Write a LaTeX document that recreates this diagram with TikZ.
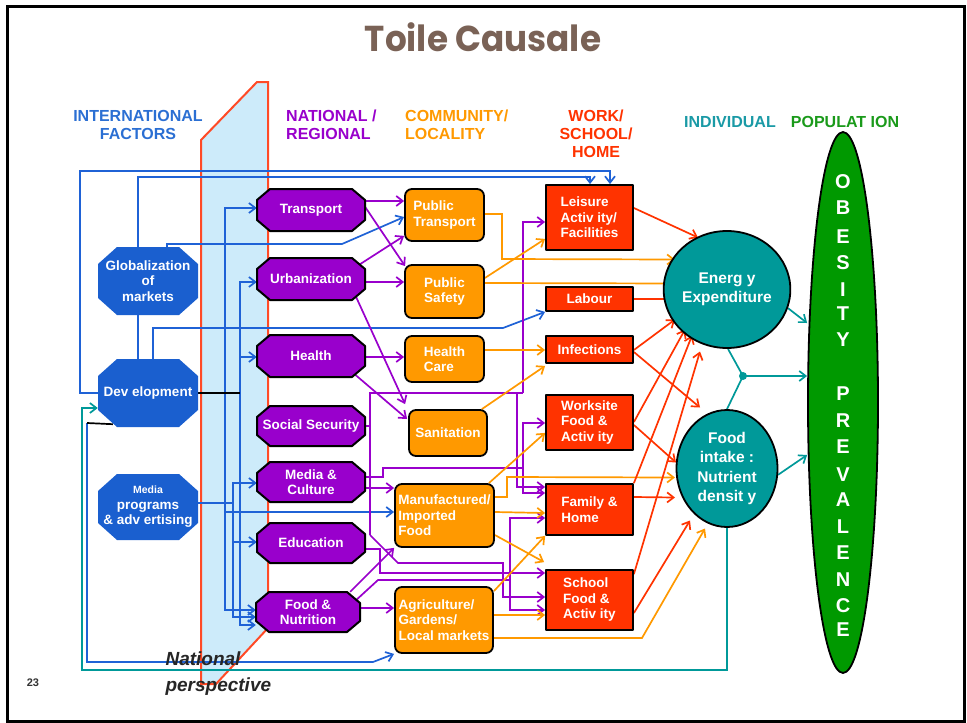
\documentclass[tikz,border=0pt]{standalone}
\usepackage{fontspec}
\usepackage{graphicx}
\setmainfont{Liberation Sans}
\newfontfamily\titlefont{Poppins}
\usetikzlibrary{arrows.meta,calc,shapes.geometric}
\pgfdeclarelayer{back}
\pgfsetlayers{back,main}

\definecolor{intlblue}{HTML}{1A5FCF}
\definecolor{lineblue}{HTML}{1F62D6}
\definecolor{headblue}{HTML}{2B6FD3}
\definecolor{natpurple}{HTML}{9900CC}
\definecolor{comorange}{HTML}{FF9900}
\definecolor{homered}{HTML}{FF3300}
\definecolor{indteal}{HTML}{009999}
\definecolor{headteal}{HTML}{1A9AA6}
\definecolor{popgreen}{HTML}{009900}
\definecolor{headgreen}{HTML}{1A9A1A}
\definecolor{bandfill}{HTML}{CDEBFA}
\definecolor{bandedge}{HTML}{FF4A26}
\definecolor{titlebrown}{HTML}{7A6256}

% octagon: name, cx, cy, half width, half height, chamfer x, chamfer y, style prefix, text
\newcommand\octbox[9]{%
  \path[#8-shape, shift={(#2,#3)}]
    ({-#4+#6},{-#5}) -- ({#4-#6},{-#5}) -- ({#4},{-#5+#7}) -- ({#4},{#5-#7})
    -- ({#4-#6},{#5}) -- ({-#4+#6},{#5}) -- ({-#4},{#5-#7}) -- ({-#4},{-#5+#7}) -- cycle;
  \node[#8-text, minimum width={2*#4}, minimum height={2*#5}] (#1) at (#2,#3) {#9};
}

\tikzset{
  conn/.style={line width=1.7pt},
  arr/.style={-{Straight Barb[length=6.5pt,width=10pt]}},
  bl/.style={conn, draw=lineblue},
  pu/.style={conn, draw=natpurple},
  orl/.style={conn, draw=comorange},
  rd/.style={conn, draw=homered},
  tl/.style={conn, draw=indteal},
  boxtext/.style={text=white, font=\bfseries\fontsize{13.5}{15.5}\selectfont, inner sep=0pt},
  intl-shape/.style={fill=intlblue},
  intl-text/.style={boxtext, align=center},
  nat-shape/.style={fill=natpurple, draw=black, line width=2pt},
  nat-text/.style={boxtext, align=center},
  comm/.style={boxtext, fill=comorange, draw=black, line width=1.8pt, rounded corners=7pt, align=left},
  home/.style={boxtext, fill=homered, draw=black, line width=1.8pt, align=left},
  indiv/.style={ellipse, fill=indteal, draw=black, line width=1.8pt, text=white,
    font=\bfseries\fontsize{15.5}{19.5}\selectfont, align=center, inner sep=0pt},
  head/.style={font=\bfseries\fontsize{16}{18}\selectfont, inner sep=0pt},
  obletter/.style={text=white, font=\bfseries\fontsize{20}{21}\selectfont, inner sep=0pt}
}

\begin{document}
\begin{tikzpicture}[x=1pt, y=-1pt, line join=round]
\useasboundingbox (0,0) rectangle (967,723);

% title and page number
\node[font=\titlefont\bfseries\fontsize{36}{40}\selectfont, text=titlebrown] (title) at (483,37) {\scalebox{0.95}[1]{Toile Causale}};
\node[font=\bfseries\fontsize{11}{13}\selectfont, text=black!80] (pnum) at (33,683) {23};

% column headings
\node[head, text=headblue, align=center] (hintl) at (138,125) {INTERNATIONAL\\FACTORS};
\node[head, text=natpurple, align=left, anchor=west] (hnat) at (286,125) {NATIONAL /\\REGIONAL};
\node[head, text=comorange, align=left, anchor=west] (hcomm) at (405,125) {COMMUNITY/\\LOCALITY};
\node[head, text=homered, align=center] (hhome) at (596,134) {WORK/\\SCHOOL/\\HOME};
\node[head, text=headteal] (hind) at (730,122) {INDIVIDUAL};
\node[head, text=headgreen] (hpop) at (845,122) {POPULAT ION};

% international factors
\octbox{glob}{148}{281}{50}{34}{19}{17}{intl}{Globalization\\of\\markets}
\octbox{dev}{148}{393}{50}{34}{19}{17}{intl}{Dev elopment}
\octbox{mprog}{148}{507}{50}{33}{19}{17}{intl}{{\fontsize{10.5}{12}\selectfont Media}\\programs\\\& adv ertising}

% national / regional
\octbox{trans}{311}{210}{54}{21}{13}{11}{nat}{Transport}
\octbox{urb}{311}{279}{54}{21}{13}{11}{nat}{Urbanization}
\octbox{health}{311}{356}{54}{21}{13}{11}{nat}{Health}
\octbox{socsec}{311}{426}{54}{20}{13}{11}{nat}{Social Security}
\octbox{mediac}{311}{482}{54}{20}{13}{11}{nat}{Media \&\\Culture}
\octbox{edu}{311}{543}{54}{20}{13}{11}{nat}{Education}
\octbox{food}{308}{612}{52}{20}{13}{11}{nat}{Food \&\\Nutrition}

% community / locality
\node[comm, minimum width=79, minimum height=52] (pubtr) at (444.5,215) {Public\\Transport};
\node[comm, minimum width=79, minimum height=53] (pubsaf) at (444.5,291.5) {Public\\Safety};
\node[comm, minimum width=79, minimum height=46] (hcare) at (444.5,359) {Health\\Care};
\node[comm, minimum width=78, minimum height=46] (sanit) at (448,433) {Sanitation};
\node[comm, minimum width=99, minimum height=63] (manuf) at (444.5,515.5) {Manufactured/\\Imported\\Food};
\node[comm, minimum width=98, minimum height=66] (agri) at (444,620) {Agriculture/\\Gardens/\\Local markets};

% work / school / home
\node[home, minimum width=87, minimum height=65] (leis) at (589.5,217.5) {Leisure\\Activ ity/\\Facilities};
\node[home, minimum width=87, minimum height=24] (labour) at (589.5,299) {Labour};
\node[home, minimum width=87, minimum height=27] (infect) at (589.5,349.5) {Infections};
\node[home, minimum width=87, minimum height=55] (work) at (589.5,422.5) {Worksite\\Food \&\\Activ ity};
\node[home, minimum width=87, minimum height=51] (family) at (589.5,509.5) {Family \&\\Home};
\node[home, minimum width=87, minimum height=60] (school) at (589.5,600) {School\\Food \&\\Activ ity};

% individual
\node[indiv, minimum width=100, minimum height=117] (energy) at (727,289.5) {Energ y\\Expenditure};
\node[indiv, minimum width=101, minimum height=117] (intake) at (727,468.5) {Food\\intake :\\Nutrient\\densit y};

% population
\node[ellipse, fill=popgreen, draw=black, line width=1.8pt, minimum width=70, minimum height=541, inner sep=0pt] (obes) at (843,402.5) {};
\foreach \l/\yy [count=\k] in {O/182,B/208,E/237,S/263,I/290,T/314,Y/340,P/394,R/421,E/447,V/475,A/500,L/527,E/553,N/580,C/606,E/630}
  \node[obletter] (obl\k) at (843,\yy) {\l};

\coordinate (tj) at (743,376);
\fill[indteal] (tj) circle (4);

\node[font=\bfseries\itshape\fontsize{19}{26}\selectfont, text=black!85, align=left, anchor=north west] (natp) at (162,648) {National\\perspective};

\begin{pgfonlayer}{back}
\fill[white] (0,0) rectangle (967,723);
\draw[line width=3pt] (7,6) rectangle (964,721);
% national perspective band
\filldraw[fill=bandfill, draw=bandedge, line width=2pt]
  (257,82) -- (268,82) -- (268,628) -- (216,684) -- (201,684) -- (201,140) -- cycle;

% international links
\draw[bl,arr] (dev.west) -| (80,171) -| (leis.north -| 610,0);
\draw[bl,arr] (glob.north -| 138,0) |- (590,177) -- (leis.north -| 590,0);
\draw[bl,arr] (glob.north -| 167,0) -- (167,244) -- (342,244) -- (pubtr.west |- 0,217);
\draw[conn,black] (glob.north -| 167,0) -- ++(0,5);
\draw[bl] (glob.south -| 138,0) -- (dev.north -| 138,0);
\draw[bl,arr] (dev.north -| 153,0) |- (503,328) -- (labour.south west);
\coordinate (ja) at (225,393);
\coordinate (jb) at (240,393);
\draw[bl,arr] (ja) |- (trans.west |- 0,208);
\draw[bl,arr] (ja) |- (food.west |- 0,610);
\draw[bl,arr] (ja) |- (manuf.west |- 0,512);
\draw[bl,arr] (jb) |- (urb.west |- 0,282);
\draw[bl,arr] (jb) |- (health.west |- 0,357);
\draw[bl,arr] (jb) |- (food.west |- 0,625);
\draw[conn,black] (dev.east) -- (jb);
\coordinate (jc) at (233,503);
\draw[bl] (mprog.east |- jc) -- (jc);
\draw[bl,arr] (jc) |- (mediac.west |- 0,483);
\draw[bl,arr] (jc) |- (edu.west |- 0,542);
\draw[bl,arr] (jc) |- (food.west |- 0,617);
\coordinate (jd) at (87,423);
\draw[bl,arr] (jd) |- (373,662) -- (agri.south west);
\draw[conn,black] ($(dev.south west)+(15,-3)$) -- (jd);
\draw[tl,arr] (intake.south) |- (82,670) -- (82,408) -- (dev.west |- 0,408);

% national to community and beyond
\draw[pu,arr] (trans.east |- 0,201) -- (pubtr.west |- 0,201);
\draw[pu,arr] (trans.east |- 0,207) -- ($(pubsaf.north west)+(1,2)$);
\draw[pu,arr] ($(urb.east)+(-8,-13)$) -- ($(pubtr.south west)+(0,-6)$);
\draw[pu,arr] (urb.east |- 0,282) -- (pubsaf.west |- 0,282);
\draw[pu,arr] ($(urb.east)+(-10,16)$) -- ($(sanit.north west)+(-3,-5)$);
\draw[pu,arr] (health.east |- 0,357) -- (hcare.west |- 0,357);
\draw[pu,arr] ($(health.east)+(-12,17)$) -- ($(sanit.west)+(-1,-14)$);
\draw[pu] (socsec.east) -- (370,426);
\draw[pu] (370,535) -- (370,393) -- (523,393);
\draw[pu,arr] (523,393) |- (leis.west |- 0,222);
\draw[pu,arr] (517,393) |- (family.west |- 0,487);
\draw[pu,arr] (370,535) -- (398,563) -- (503,563) |- (school.west |- 0,597);
\draw[pu] (mediac.east |- 0,477) -- (383,477) |- (523,468);
\draw[pu,arr] (523,468) |- (work.west |- 0,423);
\draw[pu,arr] (523,468) |- (family.west |- 0,493);
\draw[pu,arr] (mediac.east |- 0,488) -- (manuf.west |- 0,488);
\draw[pu,arr] (edu.east |- 0,549) -- (380,549) |- (school.west |- 0,573);
\draw[pu,arr] ($(food.north east)+(-10,0)$) -- (manuf.south west);
\draw[pu,arr] (food.east |- 0,608) -- (agri.west |- 0,608);
\draw[pu] ($(food.east)+(-4,-12)$) -- (378,580) -- (510,580);
\draw[pu,arr] (510,580) |- (family.west |- 0,518);
\draw[pu,arr] (510,580) |- (school.west |- 0,610);

% community to home and individual
\draw[orl,arr] (pubtr.east |- 0,214) -| (502,259) -- ($(energy)+(-52,-30)$);
\draw[orl,arr] (pubsaf.east |- 0,283) -- ($(energy)+(-52,-6)$);
\draw[orl,arr] (pubsaf.east |- 0,278) -- ($(leis.south west)+(0,-12)$);
\draw[orl,arr] (hcare.east |- 0,350) -- (infect.west |- 0,350);
\draw[orl,arr] ($(sanit.north east)+(-6,0)$) -- ($(infect.south west)+(0,2)$);
\draw[orl,arr] ($(manuf.north east)+(-6,0)$) -- ($(work.south west)+(0,-18)$);
\draw[orl,arr] (manuf.east |- 0,497) -| (507,477) -- ($(intake)+(-52,9)$);
\draw[orl,arr] (manuf.east |- 0,512) -- (family.west |- 0,513);
\draw[orl,arr] (manuf.east |- 0,535) -- ($(school.north west)+(-1,-7)$);
\draw[orl,arr] ($(agri.north east)+(0,5)$) -- (family.south west);
\draw[orl,arr] (agri.east |- 0,615) -- (school.west |- 0,615);
\draw[orl,arr] (agri.east |- 0,638) -- (642,638) -- ($(intake)+(-22,60)$);

% home settings to individual
\draw[rd,arr] (leis.east |- 0,208) -- ($(energy)+(-29,-52)$);
\draw[rd,arr] (labour.east) -- ($(energy)+(-52,9.5)$);
\draw[rd,arr] (infect.east |- 0,350) -- ($(energy)+(-52,30)$);
\draw[rd,arr] (infect.east |- 0,352) -- ($(intake)+(-27,-61)$);
\draw[rd,arr] (work.east |- 0,422) -- ($(energy)+(-42,40)$);
\draw[rd,arr] (work.east |- 0,425) -- ($(intake)+(-51,-6)$);
\draw[rd,arr] (family.north east) -- ($(energy)+(-35,46)$);
\draw[rd,arr] (family.east |- 0,497) -- ($(intake)+(-52,29)$);
\draw[rd,arr] ($(school.north east)+(0,5)$) -- ($(energy)+(-27,62)$);
\draw[rd,arr] (school.east |- 0,613) -- ($(intake)+(-37,52)$);

% individual to population
\draw[tl,arr] (energy.-17) -- (obes.west |- 0,323);
\draw[tl] ($(energy.south)+(1,0)$) -- (tj);
\draw[tl] (intake.north) -- (tj);
\draw[tl,arr] (tj) -- (obes.west |- tj);
\draw[tl,arr] (intake.-7) -- (obes.west |- 0,455);
\end{pgfonlayer}
\end{tikzpicture}
\end{document}
